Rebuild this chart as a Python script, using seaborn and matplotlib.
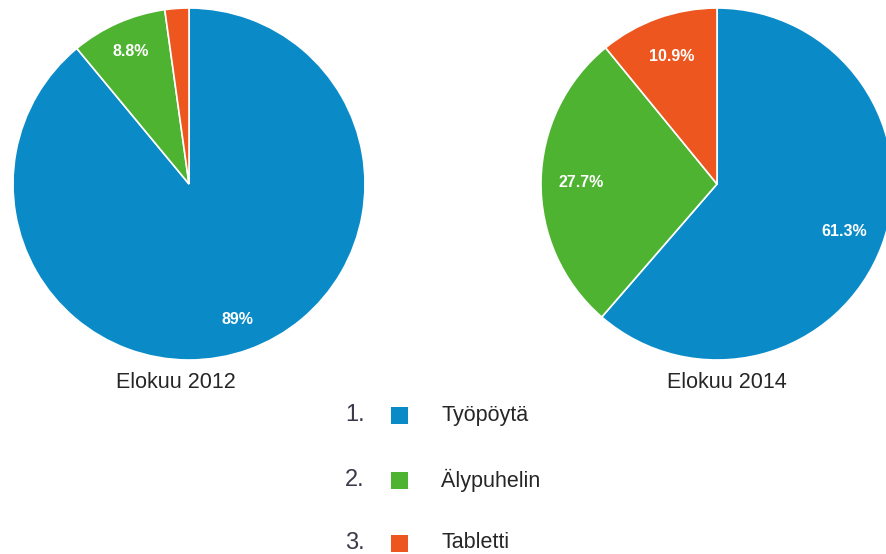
import numpy as np
import matplotlib.pyplot as plt
import seaborn as sns
from matplotlib.patches import Rectangle

# Data
categories = ['Työpöytä', 'Älypuhelin', 'Tabletti']
share_2012 = [89.0, 8.8, 2.2]
share_2014 = [61.3, 27.7, 10.9]
labels_2012 = ['89%', '8.8%', '']
labels_2014 = ['61.3%', '27.7%', '10.9%']
titles = ['Elokuu 2012', 'Elokuu 2014']
colors = ['#0A8BC8', '#4DB331', '#EE5620']

sns.set_theme(style='white')
plt.rcParams['font.family'] = ['Liberation Sans', 'DejaVu Sans']

W, H = 886, 554
fig = plt.figure(figsize=(W / 100, H / 100), dpi=100)
fig.patch.set_facecolor('white')


def draw_pie(cx, cy, r, values, texts, title, title_x, pct_dist):
    ax = fig.add_axes([(cx - r) / W, 1 - (cy + r) / H, 2 * r / W, 2 * r / H])
    wedges, _ = ax.pie(values, colors=colors, startangle=90, counterclock=False,
                       wedgeprops=dict(edgecolor='white', linewidth=1.2))
    # percentage labels inside the slices
    for w, t in zip(wedges, texts):
        if not t:
            continue
        ang = np.deg2rad((w.theta1 + w.theta2) / 2)
        ax.text(pct_dist * np.cos(ang), pct_dist * np.sin(ang), t, color='white',
                fontsize=11.5, fontweight='bold', ha='center', va='center')
    ax.set_xlim(-1, 1)
    ax.set_ylim(-1, 1)
    ax.set_aspect('equal')
    ax.axis('off')
    fig.text(title_x / W, 1 - 383 / H, title, fontsize=15.5, color='#262626',
             ha='center', va='center')


draw_pie(189, 184, 176, share_2012, labels_2012, titles[0], 176, 0.82)
draw_pie(717, 184, 176, share_2014, labels_2014, titles[1], 727, 0.77)

# Legend
rows_y = [415, 480, 543]
for i, (name, col, y) in enumerate(zip(categories, colors, rows_y)):
    fig.text(345 / W, 1 - y / H, f'{i + 1}.', fontsize=17, color='#3a3a4a',
             ha='left', va='center')
    fig.add_artist(Rectangle((391 / W, 1 - (y + 8.5) / H), 17 / W, 17 / H,
                             transform=fig.transFigure, facecolor=col,
                             edgecolor='none'))
    fig.text(441 / W, 1 - y / H, name, fontsize=15.5, color='#262626',
             ha='left', va='center')

fig.savefig('out.png', dpi=100)
